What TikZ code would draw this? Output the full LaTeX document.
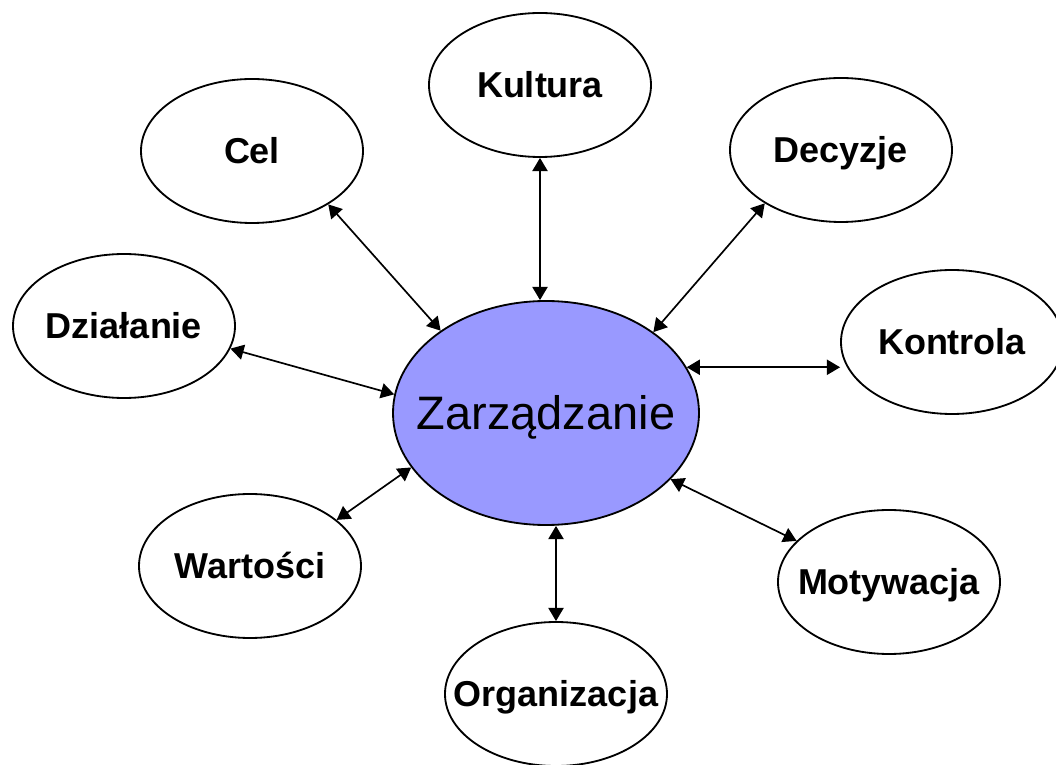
\documentclass[tikz,border=0pt]{standalone}
\usepackage{fontspec}
\setmainfont{Liberation Sans}
\usetikzlibrary{shapes.geometric,arrows.meta}
\definecolor{fiolet}{RGB}{153,153,255}
\tikzset{
  bezramki/.style={execute at begin node={\hbox to 0pt\bgroup\hss},execute at end node={\hss\egroup}},
  elipsa/.style={ellipse,draw,line width=1.3pt,minimum width=5.55cm,minimum height=3.6cm,bezramki,
                 inner sep=0pt,font=\fontsize{25.6}{28}\selectfont\bfseries,text height=18.4pt,text depth=0pt},
  srodek/.style={ellipse,draw,line width=1.3pt,fill=fiolet,minimum width=7.65cm,minimum height=5.6cm,bezramki,
                 inner sep=0pt,font=\fontsize{33.4}{36}\selectfont,text height=23.9pt,text depth=0pt},
  >={Triangle[length=3.3mm,width=3.8mm]},
  lacz/.style={<->,line width=1.2pt}
}

\begin{document}
\begin{tikzpicture}
\useasboundingbox[clip] (0,0) rectangle (26.4,19.1);

\node[srodek] (zarz) at (13.65,8.775) {Zarządzanie};
\node[elipsa] (cel) at (6.3,15.325) {Cel};
\node[elipsa] (kult) at (13.5,16.975) {Kultura};
\node[elipsa] (dec) at (21.025,15.35) {Decyzje};
\node[elipsa] (dzial) at (3.1,10.95) {Działanie};
\node[elipsa] (kontr) at (23.8,10.55) {Kontrola};
\node[elipsa] (wart) at (6.25,4.95) {Wartości};
\node[elipsa] (motyw) at (22.225,4.55) {Motywacja};
\node[elipsa] (org) at (13.9,1.75) {Organizacja};

\draw[lacz] (cel.-35)--(zarz.142);
\draw[lacz] (kult.south)--(kult.south |- zarz.north);
\draw[lacz] (dec.-145)--(zarz.37);
\draw[lacz] (dzial.-12)--(zarz.173);
\draw[lacz] (zarz.18)--(zarz.18 -| kontr.west);
\draw[lacz] (wart.28)--(zarz.202);
\draw[lacz] (motyw.156)--(zarz.-28);
\draw[lacz] (org.north)--(org.north |- zarz.south);
\end{tikzpicture}
\end{document}
